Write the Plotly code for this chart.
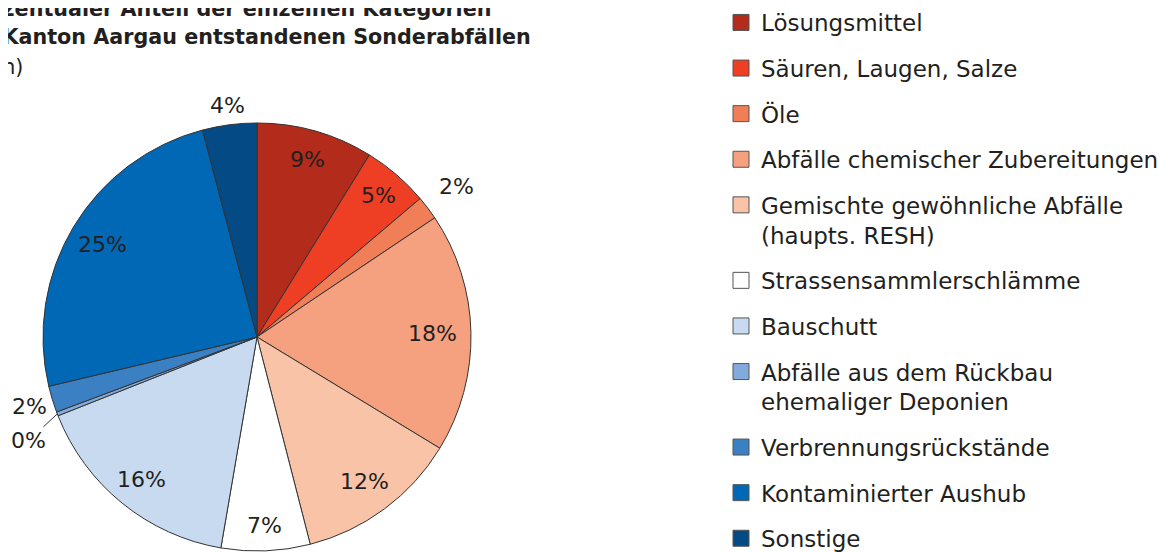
import math
import plotly.graph_objects as go

categories = [
    "Lösungsmittel",
    "Säuren, Laugen, Salze",
    "Öle",
    "Abfälle chemischer Zubereitungen",
    "Gemischte gewöhnliche Abfälle<br>(haupts. RESH)",
    "Strassensammlerschlämme",
    "Bauschutt",
    "Abfälle aus dem Rückbau<br>ehemaliger Deponien",
    "Verbrennungsrückstände",
    "Kontaminierter Aushub",
    "Sonstige",
]
shares = [8.8, 5.0, 1.8, 18.1, 12.3, 6.7, 16.3, 0.3, 2.0, 24.6, 4.1]
colors = [
    "#B22B1B", "#EE3E24", "#F07F58", "#F5A07F", "#F9C3A7", "#FFFFFF",
    "#C8DAF0", "#82ABDB", "#3B80C3", "#0068B4", "#044A84",
]

title_lines = [
    "Prozentualer Anteil der einzelnen Kategorien",
    "an den im Kanton Aargau entstandenen Sonderabfällen",
    "(in Tonnen)",
]

# label placement style (radius as fraction of pie radius; leader line for tiny slices)
label_radius = [0.86, 0.87, 1.17, 0.82, 0.84, 0.88, 0.86, None, 1.11, 0.84, 1.09]
leader_offset = {7: (-29, 27)}

FONT = "DejaVu Sans"
TXT = "#231f20"
W, H = 1174, 552
OFF = 8  # page body margin of the html page, compensated in all placements


def px(x):
    return (x - OFF) / W


def py(y):
    return 1 - (y - OFF) / H


PIE_X = (43, 471)
PIE_Y = (123, 551)
CX = (PIE_X[0] + PIE_X[1]) / 2
CY = (PIE_Y[0] + PIE_Y[1]) / 2
R = (PIE_X[1] - PIE_X[0]) / 2

fig = go.Figure()
fig.add_trace(go.Pie(
    labels=categories,
    values=shares,
    sort=False,
    direction="clockwise",
    rotation=0,
    marker=dict(colors=colors, line=dict(color="#333333", width=1)),
    textinfo="none",
    showlegend=False,
    domain=dict(x=[px(PIE_X[0]), px(PIE_X[1])], y=[py(PIE_Y[1]), py(PIE_Y[0])]),
    hoverinfo="label+percent",
))

# legend entries (one group each, so the spacing between entries can be set)
for cat, col in zip(categories, colors):
    fig.add_trace(go.Scatter(
        x=[None], y=[None], mode="markers", name=cat, legendgroup=cat,
        marker=dict(symbol="square", size=16, color=col,
                    line=dict(color="#555555", width=1)),
        hoverinfo="skip",
    ))

annotations = []

# percentage labels derived from the slice values
total = sum(shares)
cum = 0.0
for i, v in enumerate(shares):
    mid = (cum + v / 2) / total * 2 * math.pi
    cum += v
    txt = "%d%%" % round(v / total * 100)
    if i in leader_offset:
        ex = CX + R * math.sin(mid)
        ey = CY - R * math.cos(mid)
        ax, ay = leader_offset[i]
        annotations.append(dict(
            text=txt, x=px(ex), y=py(ey), xref="paper", yref="paper",
            showarrow=True, ax=ax, ay=ay, arrowhead=0, arrowwidth=1,
            arrowcolor="#333333", standoff=0,
            font=dict(family=FONT, size=22, color=TXT),
        ))
    else:
        rr = label_radius[i] * R
        lx = CX + rr * math.sin(mid)
        ly = CY - rr * math.cos(mid)
        annotations.append(dict(
            text=txt, x=px(lx), y=py(ly), xref="paper", yref="paper",
            showarrow=False, xanchor="center", yanchor="middle",
            font=dict(family=FONT, size=22, color=TXT),
        ))

title_ends = [493, 533, 25]
title_mid = [9, 37, 67]
for i, (line, xe, ym) in enumerate(zip(title_lines, title_ends, title_mid)):
    annotations.append(dict(
        text=("<b>%s</b>" % line) if i < 2 else line,
        x=px(xe), y=py(ym), xref="paper", yref="paper",
        xanchor="right", yanchor="middle", showarrow=False,
        font=dict(family=FONT, size=20.7, color=TXT),
    ))

fig.update_layout(
    width=W, height=H,
    margin=dict(l=0, r=0, t=0, b=0, autoexpand=False),
    paper_bgcolor="white", plot_bgcolor="white",
    xaxis=dict(visible=False), yaxis=dict(visible=False),
    font=dict(family=FONT, color=TXT),
    annotations=annotations,
    legend=dict(
        x=713 / W, y=1 + 7 / H, xanchor="left", yanchor="top",
        font=dict(family=FONT, size=23, color=TXT),
        traceorder="grouped", tracegroupgap=12.7, valign="top",
        bgcolor="rgba(0,0,0,0)", maxheight=800,
    ),
)

fig.write_html("out.html")
